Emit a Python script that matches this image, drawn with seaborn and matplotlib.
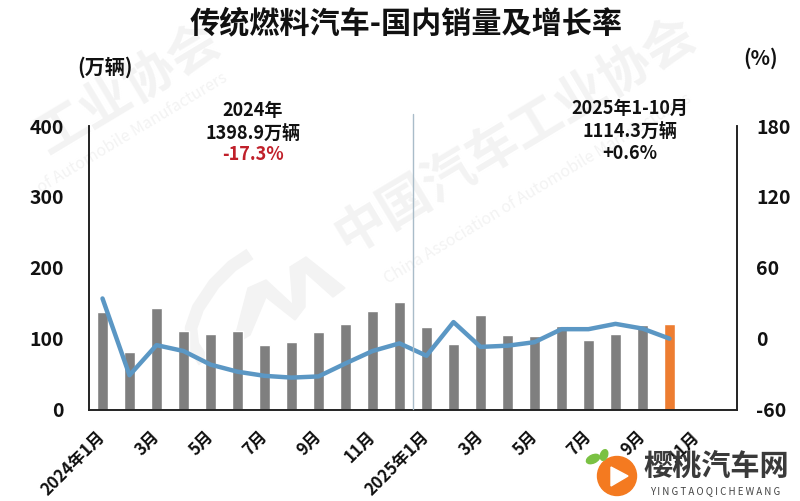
import numpy as np
import pandas as pd
import matplotlib.pyplot as plt
import matplotlib.transforms as mtrans
import seaborn as sns
from matplotlib.patches import Circle, Ellipse, Polygon

sns.set_theme(style='white')
plt.rcParams['font.family'] = ['Noto Sans CJK SC', 'DejaVu Sans']
plt.rcParams['font.weight'] = 'bold'
plt.rcParams['axes.unicode_minus'] = False
plt.rcParams['text.color'] = '#111111'
plt.rcParams['xtick.labelcolor'] = '#111111'
plt.rcParams['ytick.labelcolor'] = '#111111'

# data
months = ['2024-%02d' % m for m in range(1, 13)] + ['2025-%02d' % m for m in range(1, 13)]
sales = [137, 81, 143, 111, 107, 111, 91, 95, 110, 120, 139, 152,
         116, 93, 133, 105, 104, 118, 98, 107, 119, 120, np.nan, np.nan]
growth = [34, -31, -5.5, -10.5, -22, -28, -31.5, -33, -32, -21, -10.5, -4,
          -14.5, 14, -7, -6, -3, 8, 8, 12.5, 8.5, 0]
tick_labels = ['2024年1月', '3月', '5月', '7月', '9月', '11月',
               '2025年1月', '3月', '5月', '7月', '9月', '11月']
left_ticks = [0, 100, 200, 300, 400]
right_ticks = [-60, 0, 60, 120, 180]

W, H = 800, 501
GRAY = '#7f7f7f'
ORANGE = '#ed7d31'
BLUE = '#5b97c4'
MARK = '#f3f3f3'


def fx(px):
    return px / W


def fy(py):
    return 1 - py / H


df = pd.DataFrame({'month': months, 'sales': sales})
colors = {m: GRAY for m in months}
colors['2025-10'] = ORANGE

fig = plt.figure(figsize=(8, 5.01), dpi=100, facecolor='white')

# watermarks sit behind the transparent axes
back = fig.add_axes([0, 0, 1, 1], zorder=-2)
back.set_xlim(0, W)
back.set_ylim(H, 0)
back.axis('off')
back.text(515, 135, '中国汽车工业协会', fontsize=37, color=MARK, rotation=31, ha='center', va='center')
back.text(128, 88, '工业协会', fontsize=37, color=MARK, rotation=31, ha='center', va='center')
back.text(538, 189, 'China Association of Automobile Manufacturers', fontsize=11.5, color=MARK,
          rotation=31, ha='center', va='center', fontweight='normal')
back.text(132, 133, 'of Automobile Manufacturers', fontsize=11.5, color=MARK,
          rotation=31, ha='center', va='center', fontweight='normal')
# association emblem: arc and zigzag
back.plot([250, 232, 214, 198, 191, 193, 204], [254, 266, 284, 308, 328, 345, 362],
          color=MARK, linewidth=9, solid_capstyle='butt')
back.add_patch(Polygon([(248, 288), (266, 280), (293, 305), (290, 267), (306, 257), (345, 288),
                        (333, 297), (305, 272), (305, 307), (295, 320), (266, 297), (250, 335),
                        (233, 345)], closed=True, color=MARK))

ax = fig.add_axes([fx(89), fy(409.5), fx(648), 283.5 / H])
ax.patch.set_alpha(0)
sns.barplot(data=df, x='month', y='sales', hue='month', palette=colors, width=0.42,
            saturation=1, legend=False, ax=ax)
ax.set_xlim(-0.5, 23.5)
ax.set_ylim(0, 400)
ax.set_xlabel('')
ax.set_ylabel('')
ax.set_yticks(left_ticks)
ax.set_xticks(range(0, 24, 2))
ax.set_xticklabels(tick_labels, rotation=45, ha='right', rotation_mode='anchor', fontsize=12)
ax.tick_params(axis='x', length=0, pad=13)
ax.tick_params(axis='y', length=0, pad=18, labelsize=14)
shift = mtrans.ScaledTranslation(-6 / 100, 0, fig.dpi_scale_trans)
for lab in ax.get_xticklabels():
    lab.set_transform(lab.get_transform() + shift)

ax2 = ax.twinx()
ax2.patch.set_alpha(0)
sns.lineplot(x=np.arange(len(growth)), y=growth, color=BLUE, linewidth=3.2, ax=ax2)
ax2.set_ylim(-60, 180)
ax2.set_yticks(right_ticks)
ax2.tick_params(axis='y', length=0, pad=14, labelsize=14)

for a in (ax, ax2):
    a.spines['top'].set_visible(False)
    for side in ('left', 'right', 'bottom'):
        a.spines[side].set_color('#222222')
        a.spines[side].set_linewidth(1.2)

# divider between the two years
fig.add_artist(plt.Line2D([fx(412.5), fx(412.5)], [fy(409), fy(114)], color='#a9bcc9', linewidth=1))

fig.text(fx(406), fy(23), '传统燃料汽车-国内销量及增长率', fontsize=21.7, ha='center', va='center')
fig.text(fx(105), fy(67), '(万辆)', fontsize=14.5, ha='center', va='center')
fig.text(fx(761), fy(58), '(%)', fontsize=14.5, ha='center', va='center')

fig.text(fx(253), fy(110), '2024年', fontsize=13, ha='center', va='center')
fig.text(fx(253), fy(133), '1398.9万辆', fontsize=13, ha='center', va='center')
fig.text(fx(253), fy(155), '-17.3%', fontsize=13, ha='center', va='center', color='#c0202a')
fig.text(fx(630), fy(108), '2025年1-10月', fontsize=13, ha='center', va='center')
fig.text(fx(630), fy(131), '1114.3万辆', fontsize=13, ha='center', va='center')
fig.text(fx(630), fy(153), '+0.6%', fontsize=13, ha='center', va='center')

# site badge, bottom right
overlay = fig.add_axes([0, 0, 1, 1], zorder=5)
overlay.set_xlim(0, W)
overlay.set_ylim(H, 0)
overlay.axis('off')
overlay.add_patch(Circle((617, 476), 19.5, color='#f47a20'))
overlay.add_patch(Polygon([(611, 467), (611, 486), (628, 476)], closed=True, color='white'))
overlay.add_patch(Ellipse((593, 459), 14, 8, angle=-25, color='#7ac143'))
overlay.add_patch(Ellipse((604, 455), 7, 11, angle=20, color='#7ac143'))
overlay.text(716, 466, '樱桃汽车网', fontsize=21, color='#3a3a3a', ha='center', va='center')
overlay.text(715, 491, ' '.join('YINGTAOQICHEWANG'), fontsize=7, color='#444444',
             ha='center', va='center', fontweight='normal')

plt.savefig('out.png', dpi=100)
